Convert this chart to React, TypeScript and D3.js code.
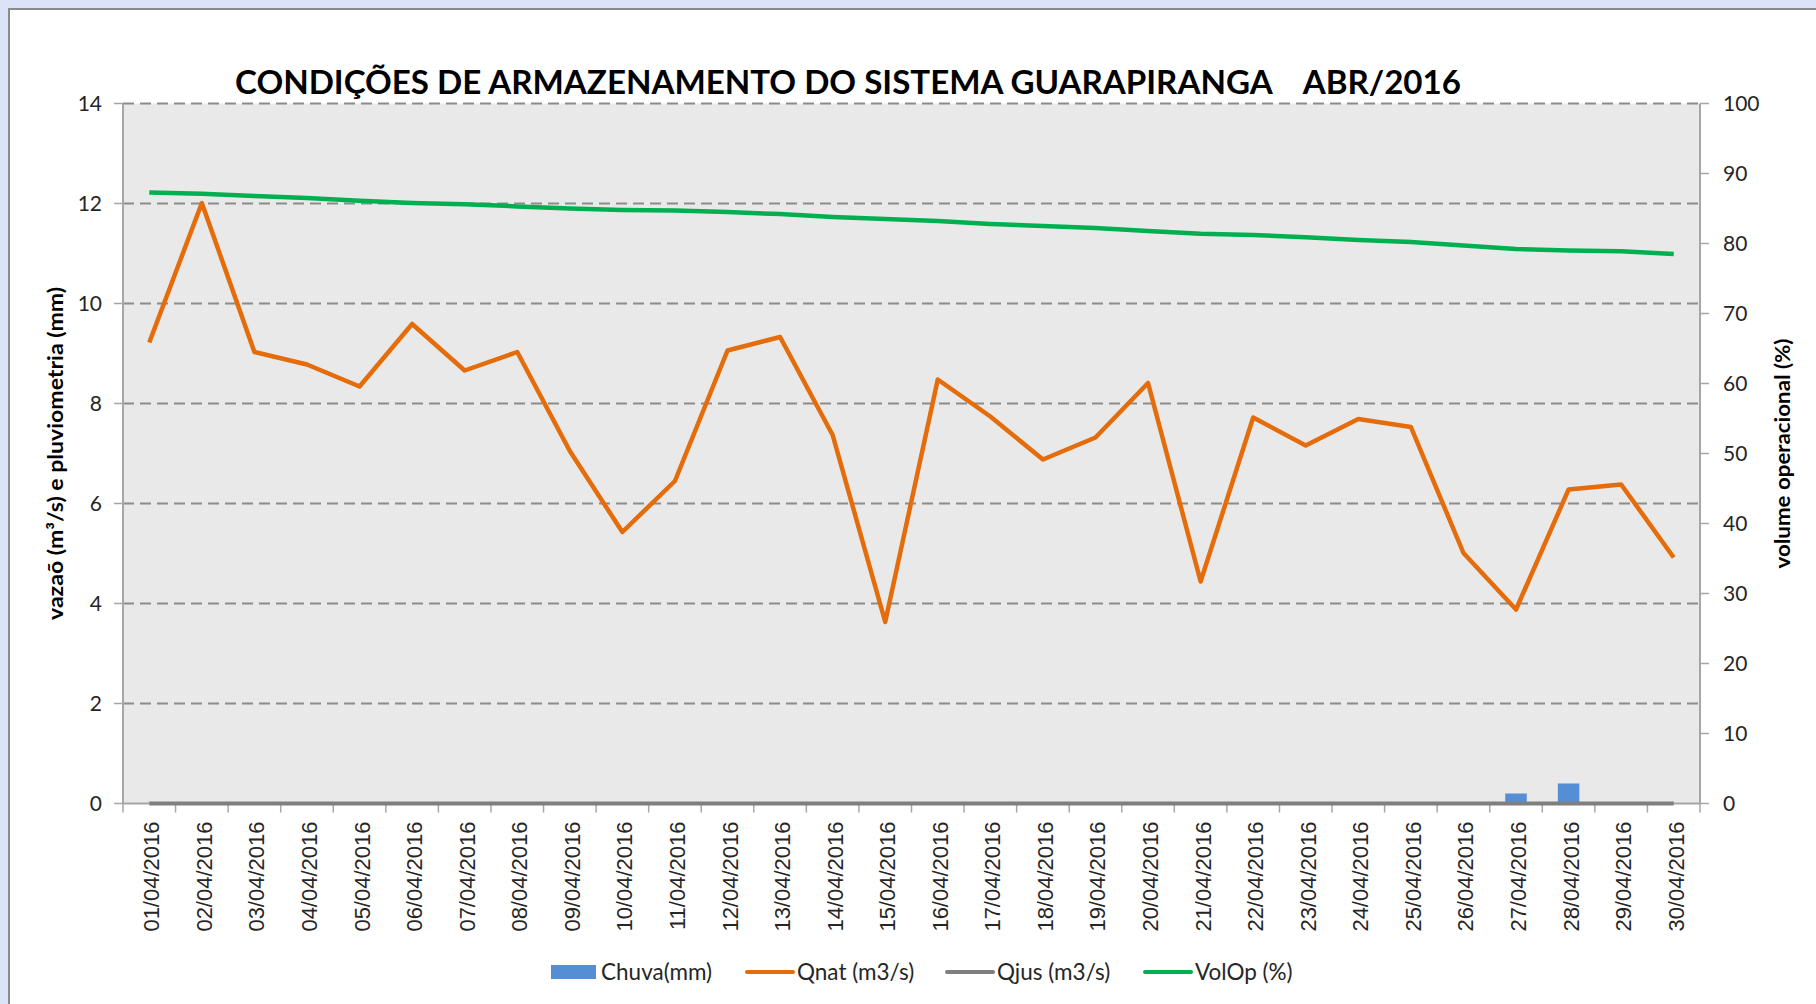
import React from "react";
import * as d3 from "d3";

const dates = [
  "01/04/2016", "02/04/2016", "03/04/2016", "04/04/2016", "05/04/2016", "06/04/2016",
  "07/04/2016", "08/04/2016", "09/04/2016", "10/04/2016", "11/04/2016", "12/04/2016",
  "13/04/2016", "14/04/2016", "15/04/2016", "16/04/2016", "17/04/2016", "18/04/2016",
  "19/04/2016", "20/04/2016", "21/04/2016", "22/04/2016", "23/04/2016", "24/04/2016",
  "25/04/2016", "26/04/2016", "27/04/2016", "28/04/2016", "29/04/2016", "30/04/2016",
];

const chuva = [0, 0, 0, 0, 0, 0, 0, 0, 0, 0, 0, 0, 0, 0, 0, 0, 0, 0, 0, 0, 0, 0, 0, 0, 0, 0, 0.2, 0.4, 0, 0];

const qnat = [
  9.22, 12.01, 9.03, 8.78, 8.34, 9.59, 8.66, 9.03, 7.05, 5.43,
  6.45, 9.06, 9.33, 7.37, 3.63, 8.48, 7.74, 6.88, 7.32, 8.41,
  4.44, 7.72, 7.16, 7.69, 7.53, 5.01, 3.88, 6.28, 6.38, 4.92,
];

const qjus = [0, 0, 0, 0, 0, 0, 0, 0, 0, 0, 0, 0, 0, 0, 0, 0, 0, 0, 0, 0, 0, 0, 0, 0, 0, 0, 0, 0, 0, 0];

const volOp = [
  87.3, 87.1, 86.8, 86.5, 86.1, 85.8, 85.6, 85.3, 85.0, 84.8,
  84.7, 84.5, 84.2, 83.8, 83.5, 83.2, 82.8, 82.5, 82.2, 81.8,
  81.4, 81.2, 80.9, 80.5, 80.2, 79.7, 79.2, 79.0, 78.9, 78.5,
];

const leftTicks = [0, 2, 4, 6, 8, 10, 12, 14];
const rightTicks = [0, 10, 20, 30, 40, 50, 60, 70, 80, 90, 100];

const title = "CONDIÇÕES DE ARMAZENAMENTO DO SISTEMA GUARAPIRANGA    ABR/2016";
const leftTitle = "vazaõ (m³/s) e pluviometria (mm)";
const rightTitle = "volume operacional (%)";

const legendItems = [
  { label: "Chuva(mm)", color: "#558ed5", kind: "rect" },
  { label: "Qnat (m3/s)", color: "#e46c0a", kind: "line" },
  { label: "Qjus (m3/s)", color: "#7f7f7f", kind: "line" },
  { label: "VolOp (%)", color: "#00b050", kind: "line" },
];

const W = 1816;
const H = 1004;
const L = 123;
const R = 1700;
const T = 103.5;
const B = 803.5;

const CAL = "Lato, 'Open Sans', sans-serif";
const ARIAL = "'Liberation Sans', Arial, sans-serif";

export default function App() {
  const x = d3.scaleBand<string>().domain(dates).range([L, R]).padding(0);
  const yL = d3.scaleLinear().domain([0, 14]).range([B, T]);
  const yR = d3.scaleLinear().domain([0, 100]).range([B, T]);
  const cx = (d: string) => (x(d) as number) + x.bandwidth() / 2;
  const barW = x.bandwidth() * 0.41;

  const lineL = d3.line<number>().x((_, i) => cx(dates[i])).y((v) => yL(v));
  const lineR = d3.line<number>().x((_, i) => cx(dates[i])).y((v) => yR(v));

  const legendX = [551, 747, 947, 1145];
  const legendY = 972;

  return (
    <div style={{ position: "absolute", left: 0, top: 0 }}>
      <svg width={W} height={H} style={{ display: "block" }}>
        <rect x={0} y={0} width={W} height={H} fill="#dae3f8" />
        <rect x={9} y={9} width={W} height={H} fill="#ffffff" stroke="#8a8a8a" strokeWidth={2} />
        <rect x={L} y={T} width={R - L} height={B - T} fill="#e9e9e9" />

        {/* gridlines */}
        {leftTicks.filter((t) => t > 0).map((t) => (
          <line key={"g" + t} x1={L} x2={R} y1={yL(t)} y2={yL(t)} stroke="#8c8c8c" strokeWidth={2} strokeDasharray="11,6" />
        ))}

        {/* axes */}
        <line x1={L} x2={L} y1={T} y2={B} stroke="#a6a6a6" strokeWidth={2} />
        <line x1={R} x2={R} y1={T} y2={B} stroke="#a6a6a6" strokeWidth={2} />
        <line x1={L} x2={R} y1={B} y2={B} stroke="#a6a6a6" strokeWidth={2} />
        {leftTicks.map((t) => (
          <g key={"lt" + t}>
            <line x1={L - 9} x2={L} y1={yL(t)} y2={yL(t)} stroke="#a6a6a6" strokeWidth={1.5} />
            <text x={L - 21} y={yL(t)} dy="0.35em" textAnchor="end" fontFamily={CAL} fontSize={21} fill="#262626">{t}</text>
          </g>
        ))}
        {rightTicks.map((t) => (
          <g key={"rt" + t}>
            <line x1={R} x2={R + 9} y1={yR(t)} y2={yR(t)} stroke="#a6a6a6" strokeWidth={1.5} />
            <text x={R + 23} y={yR(t)} dy="0.35em" textAnchor="start" fontFamily={CAL} fontSize={21} fill="#262626">{t}</text>
          </g>
        ))}
        {dates.map((d, i) => (
          <line key={"xt" + i} x1={x(d) as number} x2={x(d) as number} y1={B} y2={B + 9} stroke="#a6a6a6" strokeWidth={1.5} />
        ))}
        <line x1={R} x2={R} y1={B} y2={B + 9} stroke="#a6a6a6" strokeWidth={1.5} />
        {dates.map((d) => (
          <text key={"xl" + d} transform={`translate(${cx(d) + 10},${B + 18}) rotate(-90)`} textAnchor="end" fontFamily={ARIAL} fontSize={22} fill="#262626">{d}</text>
        ))}

        {/* bars */}
        {chuva.map((v, i) => v > 0 ? (
          <rect key={"b" + i} x={cx(dates[i]) - barW / 2} y={yL(v)} width={barW} height={yL(0) - yL(v)} fill="#558ed5" />
        ) : null)}

        {/* lines */}
        <path d={lineL(qjus) as string} fill="none" stroke="#7f7f7f" strokeWidth={4} />
        <path d={lineL(qnat) as string} fill="none" stroke="#e46c0a" strokeWidth={4.5} strokeLinejoin="round" />
        <path d={lineR(volOp) as string} fill="none" stroke="#00b050" strokeWidth={4.5} strokeLinejoin="round" />

        {/* titles */}
        <text x={848} y={94} textAnchor="middle" fontFamily={CAL} fontWeight="bold" fontSize={33} fill="#000" textLength={1226} lengthAdjust="spacingAndGlyphs" style={{ whiteSpace: "pre" }}>{title}</text>
        <text transform={`translate(63,${(T + B) / 2}) rotate(-90)`} textAnchor="middle" fontFamily={CAL} fontWeight="bold" fontSize={20} fill="#000" textLength={333} lengthAdjust="spacingAndGlyphs">{leftTitle}</text>
        <text transform={`translate(1790,${(T + B) / 2}) rotate(-90)`} textAnchor="middle" fontFamily={CAL} fontWeight="bold" fontSize={20} fill="#000" textLength={230} lengthAdjust="spacingAndGlyphs">{rightTitle}</text>

        {/* legend */}
        {legendItems.map((it, i) => (
          <g key={"lg" + i}>
            {it.kind === "rect" ? (
              <rect x={legendX[i]} y={legendY - 7} width={45} height={14} fill={it.color} />
            ) : (
              <line x1={legendX[i]} x2={legendX[i] + 46} y1={legendY} y2={legendY} stroke={it.color} strokeWidth={4} strokeLinecap="round" />
            )}
            <text x={legendX[i] + 50} y={legendY} dy="0.35em" fontFamily={CAL} fontSize={22.5} fill="#262626">{it.label}</text>
          </g>
        ))}
      </svg>
    </div>
  );
}
